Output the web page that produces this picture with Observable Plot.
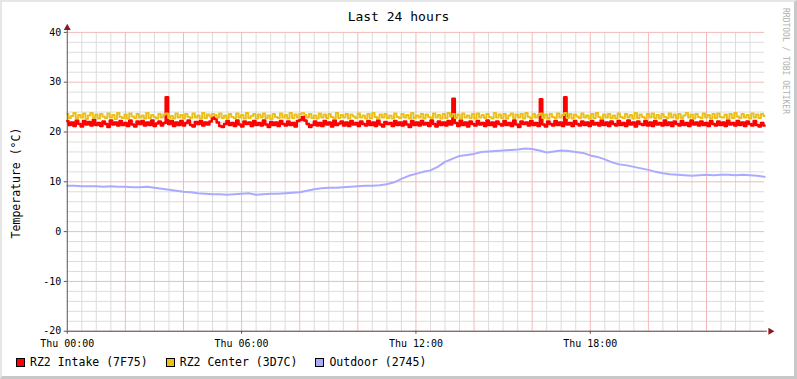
<!DOCTYPE html>
<html>
<head>
<meta charset="utf-8">
<script src="https://cdn.jsdelivr.net/npm/d3@7"></script>
<script src="https://cdn.jsdelivr.net/npm/@observablehq/plot@0.6"></script>
<style>
  html, body { margin: 0; padding: 0; background: #fff; }
  #frame { position: relative; width: 797px; height: 379px; box-sizing: border-box;
           border-top: 2px solid #e6e6e6; border-left: 2px solid #e6e6e6;
           border-right: 3px solid #c8c8c8; border-bottom: 3px solid #c8c8c8; background: #fff;
           font-family: "DejaVu Sans Mono", monospace; overflow: hidden; }
  #chart { position: absolute; left: -2px; top: -2px; }
  #title { position: absolute; left: -2px; width: 797px; top: 7px; text-align: center; font-size: 13px; color: #000; }
  #ylabel { position: absolute; left: 7px; top: 181px; font-size: 11.5px; transform-origin: 0 0;
            transform: rotate(-90deg) translate(-50%, 0); white-space: nowrap; }
  #water { position: absolute; left: 779px; top: 6px; font-size: 8px; color: #b0b0b0; writing-mode: vertical-rl; white-space: nowrap; }
  #legend { position: absolute; left: 14px; top: 353px; font-size: 11.5px; display: flex; white-space: pre; }
  .item { display: flex; align-items: center; }
  .sw { width: 7px; height: 7px; border: 1px solid #000; margin-right: 5px; }
</style>
</head>
<body>
<div id="frame">
  <div id="chart"></div>
  <div id="title">Last 24 hours</div>
  <div id="ylabel">Temperature (°C)</div>
  <div id="water">RRDTOOL / TOBI OETIKER</div>
  <div id="legend"></div>
</div>
<script>
// ---- data (5-minute samples over 24 h) ----
const seriesNames = ["RZ2 Intake (7F75)", "RZ2 Center (3D7C)", "Outdoor (2745)"];
const seriesColors = ["#ff0000", "#eac11c", "#aaaaff"];

const intake = [
22.2,21.4,21.9,21.2,22.3,21.6,21.1,22.2,21.5,22.0,21.3,22.4,21.4,21.8,21.2,22.1,21.6,21.0,22.3,21.5,21.9,21.3,22.2,21.4,
21.8,21.2,22.3,21.5,21.1,22.1,21.6,22.2,21.3,21.9,21.4,22.3,21.2,21.7,22.1,21.3,21.8,27.0,21.6,22.2,21.2,21.9,21.4,22.2,
21.3,21.8,22.3,21.4,21.1,22.0,21.6,22.2,21.3,21.9,21.5,22.1,22.9,22.6,21.9,21.2,21.0,21.6,22.2,21.4,21.8,21.2,22.3,21.5,
21.1,22.1,21.6,21.9,21.2,22.2,21.4,21.8,21.3,22.3,21.5,21.0,22.0,21.4,21.9,21.2,22.2,21.6,21.3,22.1,21.4,21.8,21.1,22.2,
22.4,23.0,22.3,21.6,21.0,21.4,22.1,21.3,21.8,21.2,22.2,21.5,21.9,21.1,22.3,21.4,21.7,22.1,21.3,21.9,21.2,22.2,21.5,21.8,
21.2,22.1,21.6,21.3,22.2,21.4,21.9,21.2,22.3,21.5,21.1,22.0,21.6,21.8,21.2,22.2,21.4,21.9,21.3,22.1,21.5,21.0,22.2,21.4,
21.9,21.3,22.2,21.5,21.8,21.2,22.3,21.6,21.1,22.1,21.4,21.9,21.3,22.2,21.5,26.7,21.8,21.2,22.3,21.4,21.9,21.1,22.1,21.6,
21.3,22.2,21.5,21.8,21.2,22.3,21.4,21.9,21.1,22.1,21.6,21.3,22.2,21.4,21.8,21.2,22.3,21.5,21.0,22.1,21.6,21.9,21.3,22.2,
21.4,21.8,21.2,26.6,21.5,21.1,22.1,21.6,21.3,22.2,21.4,21.9,21.2,27.0,21.5,21.8,21.2,22.2,21.6,21.3,22.1,21.4,21.9,21.2,
22.2,21.5,21.8,21.3,22.3,21.4,21.9,21.2,22.1,21.6,21.3,22.2,21.4,21.8,21.2,22.3,21.5,21.9,21.1,22.1,21.6,21.4,22.2,21.3,
21.9,21.2,22.2,21.5,21.8,21.3,22.3,21.4,21.9,21.2,22.1,21.6,21.3,22.2,21.4,21.8,21.2,22.3,21.5,21.9,21.3,22.1,21.4,21.8,
21.2,22.2,21.6,21.3,22.1,21.4,21.9,21.2,22.3,21.5,21.8,21.3,22.2,21.4,21.9,21.2,22.1,21.6,21.3,22.2,21.4,21.1,21.8,21.3
];

const center = [
23.6,22.8,23.2,23.8,22.7,23.4,22.9,23.7,22.6,23.3,23.8,22.8,23.5,22.7,23.6,23.1,22.8,23.7,22.9,23.4,22.6,23.8,23.0,22.8,
23.5,22.7,23.7,23.1,22.8,23.6,22.9,23.3,22.7,23.8,22.8,23.4,23.0,22.7,23.6,22.9,23.5,23.7,22.8,23.2,22.7,23.7,22.9,23.4,
22.7,23.6,23.0,22.8,23.7,22.9,23.3,22.7,23.8,22.8,23.5,23.1,23.6,23.4,22.9,23.7,22.8,23.3,22.7,23.6,23.0,22.8,23.7,22.9,
23.4,22.7,23.8,22.8,23.2,23.6,22.7,23.5,22.9,23.7,22.8,23.3,22.6,23.6,23.0,22.8,23.7,22.9,23.4,22.7,23.8,22.8,23.5,22.9,
23.6,23.8,23.4,22.9,23.6,22.8,23.3,22.7,23.7,22.9,23.5,22.8,23.6,23.0,22.7,23.8,22.8,23.4,22.9,23.6,22.7,23.5,23.1,22.8,
23.7,22.9,23.3,22.7,23.6,22.8,23.8,23.0,22.7,23.5,22.9,23.6,22.8,23.3,22.7,23.7,23.0,22.8,23.6,22.9,23.4,22.7,23.8,22.8,
23.3,22.9,23.6,22.7,23.5,23.0,22.8,23.7,22.9,23.4,22.7,23.6,22.8,23.8,23.1,23.6,22.8,23.5,22.7,23.7,22.9,23.3,22.8,23.6,
22.7,23.7,22.9,23.4,22.8,23.6,23.0,22.7,23.8,22.9,23.5,22.8,23.6,22.7,23.3,23.7,22.8,23.5,22.9,23.6,22.7,23.8,23.0,22.8,
23.6,22.9,23.4,23.7,22.8,23.5,22.7,23.6,23.0,22.8,23.7,22.9,23.4,23.8,22.8,23.6,22.7,23.5,23.1,22.8,23.7,22.9,23.3,22.7,
23.6,22.8,23.8,23.0,22.7,23.5,22.9,23.6,22.8,23.3,22.7,23.7,23.0,22.8,23.6,22.9,23.4,22.7,23.8,22.8,23.5,23.0,22.7,23.6,
22.9,23.7,22.8,23.4,22.7,23.6,23.0,22.8,23.7,22.9,23.5,22.7,23.6,22.8,23.3,23.8,22.9,23.5,22.7,23.6,23.0,22.8,23.7,22.9,
23.4,22.7,23.6,22.8,23.7,23.0,22.9,23.5,22.7,23.6,22.8,23.8,23.1,22.8,23.6,22.9,23.4,22.7,23.7,22.9,23.5,22.8,23.6,23.2
];

// outdoor, 15-minute samples
const outdoor = [
9.2,9.2,9.1,9.1,9.1,9.0,9.1,9.0,9.0,8.9,8.9,9.0,8.8,8.6,8.4,8.2,8.0,7.9,7.7,7.6,7.5,7.5,7.4,7.5,
7.6,7.7,7.4,7.5,7.6,7.6,7.7,7.8,7.9,8.2,8.5,8.7,8.8,8.8,8.9,9.0,9.1,9.2,9.2,9.3,9.5,9.9,10.6,11.2,
11.6,12.0,12.3,13.0,14.0,14.6,15.2,15.4,15.6,16.0,16.1,16.2,16.3,16.4,16.5,16.7,16.6,16.3,15.9,16.1,16.3,16.2,16.0,15.8,
15.3,15.0,14.5,13.9,13.5,13.3,13.0,12.7,12.4,12.0,11.7,11.5,11.4,11.3,11.2,11.3,11.4,11.3,11.4,11.4,11.3,11.4,11.3,11.2,
11.0
];

const yTicks = [-20, -10, 0, 10, 20, 30, 40];
const yTickLabels = ["-20", "-10", "0", "10", "20", "30", "40"];
const xTickHours = [0, 6, 12, 18];
const xTickLabels = ["Thu 00:00", "Thu 06:00", "Thu 12:00", "Thu 18:00"];

// ---- build tables ----
const toRows = (arr) => arr.map((v, i) => ({t: i * 24 / (arr.length - 1), v}));
const intakeRows = toRows(intake);
const centerRows = toRows(center);
const outdoorRows = toRows(outdoor);

const yMinor = d3.range(-20, 41, 2).filter(v => v % 10 !== 0);
const xMinor = d3.range(0, 24.01, 0.5).filter(h => h % 2 !== 0);
const xMajor = d3.range(2, 24, 2);

const chart = Plot.plot({
  width: 797, height: 379,
  marginLeft: 67, marginRight: 30, marginTop: 32, marginBottom: 47,
  x: {domain: [0, 24]},
  y: {domain: [-20, 40]},
  style: {fontFamily: "DejaVu Sans Mono", fontSize: "10px", background: "transparent", overflow: "visible", color: "#000"},
  marks: [
    Plot.ruleY(yMinor, {stroke: "#dcdcdc"}),
    Plot.ruleX(xMinor, {stroke: "#dcdcdc"}),
    Plot.ruleY(yTicks, {stroke: "#f3b9b9"}),
    Plot.ruleX(xMajor, {stroke: "#f3b9b9"}),
    Plot.line(intakeRows, {x: "t", y: "v", curve: "step", stroke: seriesColors[0], strokeWidth: 2.5}),
    Plot.line(centerRows, {x: "t", y: "v", curve: "step", stroke: seriesColors[1], strokeWidth: 2}),
    Plot.line(outdoorRows, {x: "t", y: "v", stroke: seriesColors[2], strokeWidth: 2}),
    Plot.ruleX([0], {y1: -20, y2: 40.6, stroke: "#5a5050"}),
    Plot.ruleY([-20], {x1: 0, x2: 24.1, stroke: "#5a5050"}),
    Plot.dot([{x: 0, y: 40.9}], {x: "x", y: "y", symbol: "triangle", r: 2.6, fill: "#8b1a1a", stroke: null}),
    Plot.dot([{x: 24.2, y: -20}], {x: "x", y: "y", symbol: "triangle", rotate: 90, r: 2.6, fill: "#8b1a1a", stroke: null}),
    Plot.axisY({ticks: yTicks, tickFormat: d => yTickLabels[yTicks.indexOf(d)], tickSize: 3, tickPadding: 3, label: null, stroke: "#5a5050"}),
    Plot.axisX({ticks: xTickHours, tickFormat: d => xTickLabels[xTickHours.indexOf(d)], tickSize: 3, tickPadding: 6, label: null, stroke: "#5a5050"})
  ]
});
document.getElementById("chart").appendChild(chart);

const legend = document.getElementById("legend");
const gaps = [0, 18, 18];
seriesNames.forEach((name, i) => {
  const item = document.createElement("div");
  item.className = "item";
  item.style.marginLeft = gaps[i] + "px";
  const sw = document.createElement("span");
  sw.className = "sw";
  sw.style.background = seriesColors[i];
  const label = document.createElement("span");
  label.textContent = name;
  item.appendChild(sw);
  item.appendChild(label);
  legend.appendChild(item);
});
</script>
</body>
</html>
